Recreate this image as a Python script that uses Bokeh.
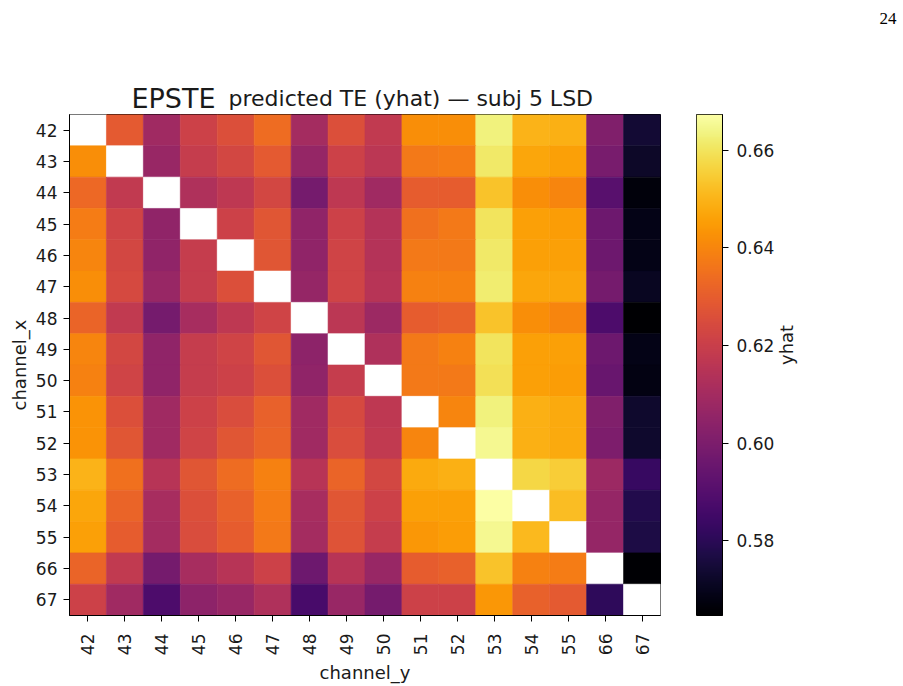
import math
import numpy as np
from bokeh.plotting import figure
from bokeh.layouts import row, column
from bokeh.models import (ColumnDataSource, FactorRange, Range1d,
                          LinearColorMapper, FixedTicker, PrintfTickFormatter)
from bokeh.palettes import Inferno256
from bokeh.transform import linear_cmap
from bokeh.core.properties import value
from bokeh.embed import file_html
from bokeh.resources import INLINE

nan = float("nan")

# channel labels (same set on both axes)
channels = ["42", "43", "44", "45", "46", "47", "48", "49", "50",
            "51", "52", "53", "54", "55", "66", "67"]

# predicted TE (yhat), one list per channel_x row, columns in channel_y order
row_42 = [nan, 0.629, 0.609, 0.621, 0.626, 0.634, 0.610, 0.626, 0.618, 0.642, 0.642, 0.663, 0.650, 0.649, 0.601, 0.574]
row_43 = [0.642, nan, 0.607, 0.619, 0.623, 0.629, 0.606, 0.621, 0.616, 0.637, 0.638, 0.661, 0.647, 0.646, 0.599, 0.572]
row_44 = [0.633, 0.618, nan, 0.613, 0.617, 0.623, 0.598, 0.617, 0.609, 0.630, 0.630, 0.653, 0.642, 0.640, 0.591, 0.567]
row_45 = [0.638, 0.622, 0.605, nan, 0.621, 0.628, 0.605, 0.621, 0.614, 0.635, 0.637, 0.660, 0.646, 0.645, 0.596, 0.569]
row_46 = [0.640, 0.623, 0.605, 0.619, nan, 0.628, 0.605, 0.622, 0.614, 0.637, 0.637, 0.661, 0.646, 0.646, 0.596, 0.569]
row_47 = [0.642, 0.624, 0.607, 0.619, 0.626, nan, 0.606, 0.622, 0.615, 0.639, 0.639, 0.662, 0.647, 0.647, 0.598, 0.571]
row_48 = [0.632, 0.618, 0.598, 0.611, 0.617, 0.622, nan, 0.616, 0.608, 0.630, 0.631, 0.653, 0.642, 0.640, 0.588, 0.5647]
row_49 = [0.640, 0.623, 0.605, 0.619, 0.622, 0.628, 0.604, nan, 0.613, 0.637, 0.639, 0.660, 0.646, 0.646, 0.596, 0.569]
row_50 = [0.639, 0.622, 0.605, 0.619, 0.621, 0.626, 0.605, 0.619, nan, 0.637, 0.637, 0.659, 0.646, 0.645, 0.595, 0.568]
row_51 = [0.643, 0.626, 0.609, 0.621, 0.625, 0.631, 0.609, 0.624, 0.617, nan, 0.640, 0.663, 0.649, 0.648, 0.601, 0.573]
row_52 = [0.643, 0.628, 0.609, 0.622, 0.628, 0.632, 0.609, 0.625, 0.618, 0.640, nan, 0.665, 0.649, 0.648, 0.600, 0.573]
row_53 = [0.650, 0.635, 0.615, 0.628, 0.634, 0.639, 0.615, 0.632, 0.623, 0.648, 0.649, nan, 0.657, 0.655, 0.608, 0.583]
row_54 = [0.647, 0.632, 0.611, 0.626, 0.631, 0.638, 0.611, 0.628, 0.621, 0.646, 0.646, 0.6673, nan, 0.652, 0.606, 0.578]
row_55 = [0.646, 0.630, 0.610, 0.625, 0.630, 0.637, 0.610, 0.627, 0.619, 0.644, 0.645, 0.665, 0.651, nan, 0.606, 0.577]
row_66 = [0.632, 0.618, 0.598, 0.611, 0.615, 0.621, 0.596, 0.615, 0.607, 0.630, 0.631, 0.653, 0.639, 0.638, nan, 0.5655]
row_67 = [0.621, 0.609, 0.588, 0.604, 0.607, 0.613, 0.587, 0.607, 0.598, 0.621, 0.621, 0.644, 0.631, 0.629, 0.581, nan]

rows = [row_42, row_43, row_44, row_45, row_46, row_47, row_48, row_49,
        row_50, row_51, row_52, row_53, row_54, row_55, row_66, row_67]

cbar_ticks = [0.58, 0.60, 0.62, 0.64, 0.66]

title_lead = "EPSTE"
title_rest = "predicted TE (yhat) \u2014 subj 5 LSD"
page_number = "24"

# long-form table for the heatmap
cx, cy, vals = [], [], []
for ch_x, r in zip(channels, rows):
    for ch_y, v in zip(channels, r):
        cx.append(ch_x)
        cy.append(ch_y)
        vals.append(v)
vals = np.array(vals, dtype=float)
vmin = float(np.nanmin(vals))
vmax = float(np.nanmax(vals))

source = ColumnDataSource(dict(cx=cx, cy=cy, val=vals))

FONT = "DejaVu Sans"
TXT = "#1a1a1a"

# header strip: title and page number (pixel coordinates, y down)
HEAD_H = 113
head = figure(width=903, height=HEAD_H, title=None,
              x_range=Range1d(0, 903), y_range=Range1d(HEAD_H, 0),
              output_backend="svg", toolbar_location=None,
              x_axis_location=None, y_axis_location=None,
              min_border=0)
head.grid.visible = False
head.outline_line_color = None
head.text(x=[131], y=[98], text=[title_lead], text_font=value(FONT),
          text_font_size="27px", text_color=TXT,
          text_baseline="alphabetic", text_align="left")
head.text(x=[228], y=[98], text=[title_rest], text_font=value(FONT),
          text_font_size="22px", text_color=TXT,
          text_baseline="alphabetic", text_align="left")
head.text(x=[879], y=[18], text=[page_number], text_font=value("Liberation Serif"),
          text_font_size="17px", text_color="black",
          text_baseline="alphabetic", text_align="left")

BODY_H = 686 - HEAD_H

p = figure(width=680, height=BODY_H, title=None,
           x_range=FactorRange(factors=channels),
           y_range=FactorRange(factors=list(reversed(channels))),
           output_backend="svg", toolbar_location=None,
           min_border_left=69, min_border_right=20,
           min_border_top=1, min_border_bottom=69)

cmap = linear_cmap("val", Inferno256, vmin, vmax, nan_color="white")
p.rect(x="cy", y="cx", width=1, height=1, source=source,
       fill_color=cmap, line_color=cmap, line_width=0.6)

p.grid.visible = False
p.outline_line_color = "black"
p.outline_line_width = 1
p.background_fill_color = "white"
p.border_fill_color = "white"

for ax in (p.xaxis[0], p.yaxis[0]):
    ax.axis_line_color = "black"
    ax.major_tick_out = 6
    ax.major_tick_in = 0
    ax.minor_tick_line_color = None
    ax.major_tick_line_color = "black"
    ax.major_label_text_font = FONT
    ax.major_label_text_font_size = "17px"
    ax.major_label_text_color = TXT
    ax.axis_label_text_font = FONT
    ax.axis_label_text_font_size = "18px"
    ax.axis_label_text_font_style = "normal"
    ax.axis_label_text_color = TXT

p.xaxis.axis_label = "channel_y"
p.xaxis.major_label_orientation = math.pi / 2
p.xaxis.major_label_standoff = 12
p.xaxis.axis_label_standoff = 4
p.yaxis.axis_label = "channel_x"
p.yaxis.major_label_standoff = 6
p.yaxis.axis_label_standoff = 3

# colour bar as its own narrow plot
cb = figure(width=223, height=BODY_H, title=None,
            x_range=Range1d(0, 1), y_range=Range1d(vmin, vmax),
            output_backend="svg", toolbar_location=None,
            x_axis_location=None, y_axis_location="right",
            min_border_left=16, min_border_right=181,
            min_border_top=1, min_border_bottom=69)
grad = np.linspace(vmin, vmax, 256).reshape(256, 1)
mapper = LinearColorMapper(palette=Inferno256, low=vmin, high=vmax)
cb.image(image=[grad], x=0, y=vmin, dw=1, dh=vmax - vmin, color_mapper=mapper)
cb.grid.visible = False
cb.outline_line_color = "black"
cb.outline_line_width = 1
cb.border_fill_color = "white"
ya = cb.yaxis[0]
ya.ticker = FixedTicker(ticks=cbar_ticks)
ya.formatter = PrintfTickFormatter(format="%.2f")
ya.axis_line_color = "black"
ya.major_tick_out = 6
ya.major_tick_in = 0
ya.minor_tick_line_color = None
ya.major_label_standoff = 8
ya.major_label_text_font = FONT
ya.major_label_text_font_size = "17px"
ya.major_label_text_color = TXT
ya.axis_label = "yhat"
ya.axis_label_orientation = math.pi / 2
ya.axis_label_text_font = FONT
ya.axis_label_text_font_size = "18px"
ya.axis_label_text_font_style = "normal"
ya.axis_label_text_color = TXT
ya.axis_label_standoff = 9

layout = column(head, row(p, cb))
open("out.html", "w").write(file_html(layout, INLINE))
